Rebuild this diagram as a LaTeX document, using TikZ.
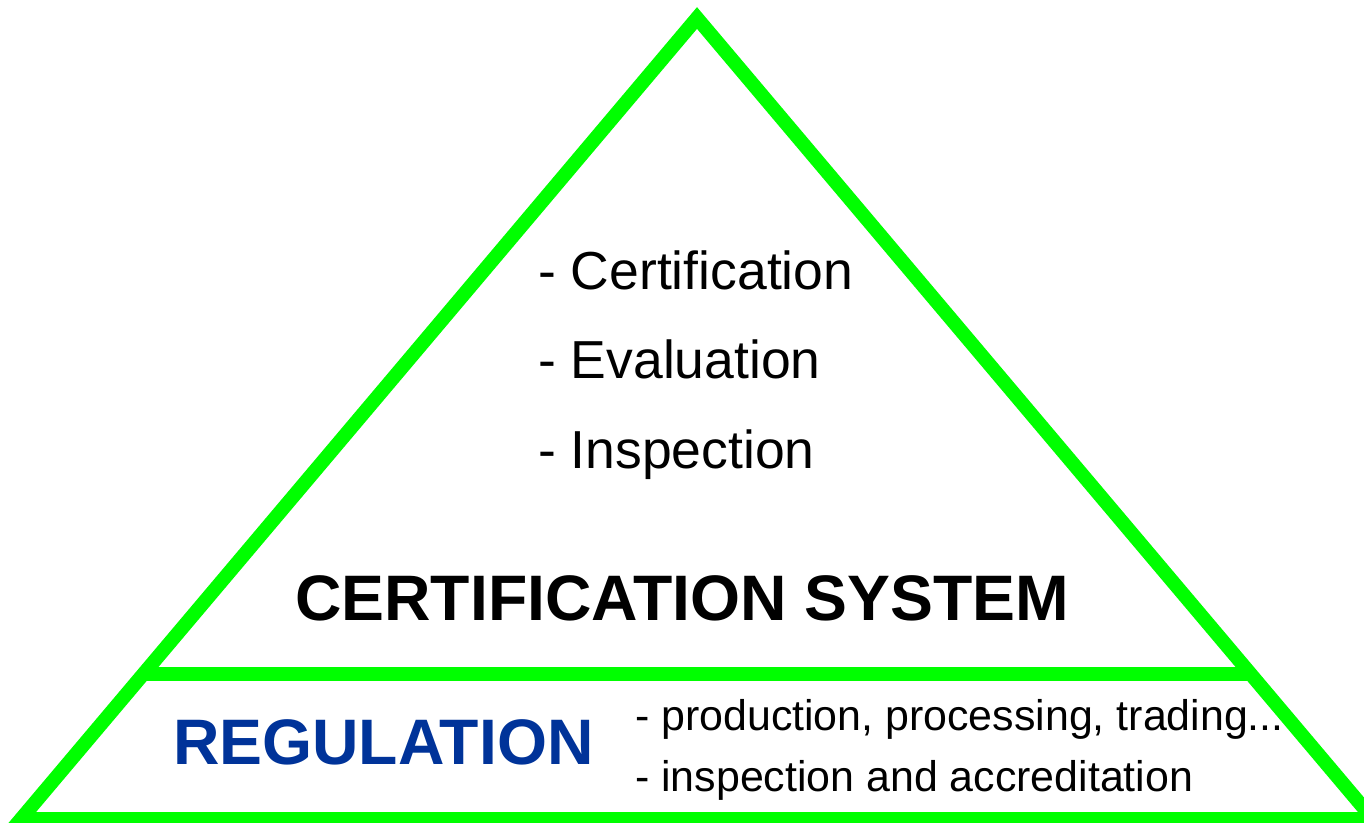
\documentclass[tikz,border=0pt]{standalone}
\usepackage{fontspec}
\setmainfont{Liberation Sans}
\definecolor{tgreen}{RGB}{0,255,0}
\definecolor{rblue}{RGB}{0,51,153}
\begin{document}
\begin{tikzpicture}[x=1pt,y=-1pt,
  edge/.style={draw=tgreen,line width=14pt,line join=miter},
  item/.style={anchor=base west,inner sep=0pt,font=\fontsize{53.5}{60}\selectfont},
  subitem/.style={anchor=base west,inner sep=0pt,font=\fontsize{42.9}{48}\selectfont},
  title/.style={anchor=base west,inner sep=0pt,font=\fontsize{64.3}{70}\selectfont\bfseries}]
\useasboundingbox (0,0) rectangle (1364,822);
\clip (0,0) rectangle (1364,822);
\coordinate (top) at (697,18);
\coordinate (bl) at (21,819);
\coordinate (br) at (1373,819);
\coordinate (hl) at (143.3,674);
\coordinate (hr) at (1250.7,674);
\draw[edge] (top) -- (br) -- (bl) -- cycle;
\draw[edge,line cap=butt] (hl) -- (hr);
\node[item] (c1) at (538,289) {- Certification};
\node[item] (c2) at (538,378) {- Evaluation};
\node[item] (c3) at (538,468) {- Inspection};
\node[title] (cs) at (295,620) {CERTIFICATION SYSTEM};
\node[title,text=rblue] (reg) at (173,764) {REGULATION};
\node[subitem] (s1) at (635,730) {- production, processing, trading...};
\node[subitem] (s2) at (635,791) {- inspection and accreditation};
\end{tikzpicture}
\end{document}
